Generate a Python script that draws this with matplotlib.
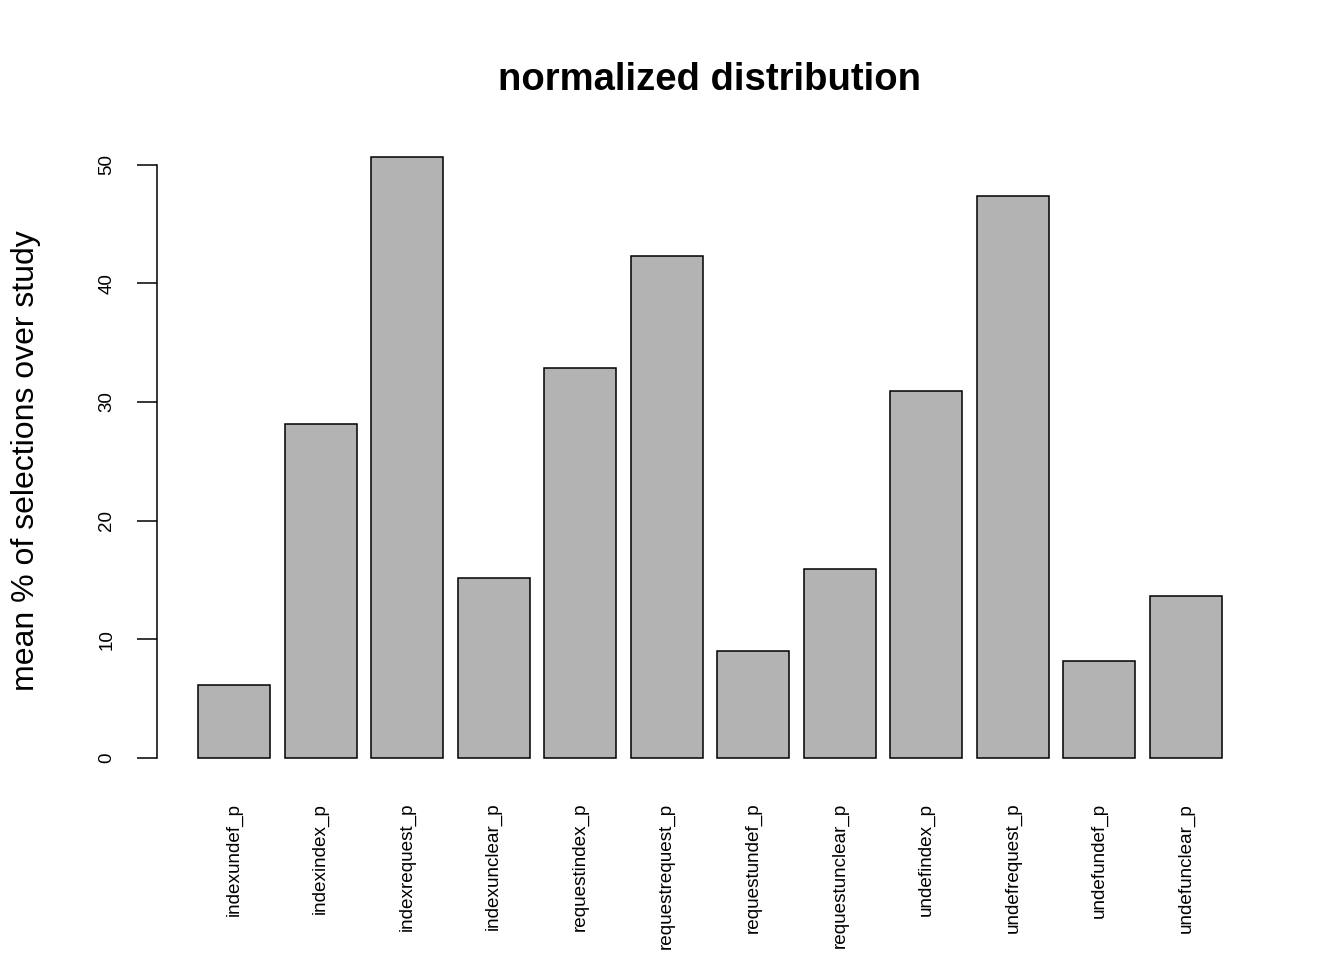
import matplotlib
matplotlib.use("Agg")
import matplotlib.pyplot as plt
import numpy as np

plt.rcParams["font.family"] = ["Liberation Sans", "DejaVu Sans"]

# bar labels and values
categories = [
    "indexundef_p", "indexindex_p", "indexrequest_p", "indexunclear_p",
    "requestindex_p", "requestrequest_p", "requestundef_p", "requestunclear_p",
    "undefindex_p", "undefrequest_p", "undefundef_p", "undefunclear_p",
]
values = [6.15, 28.15, 50.65, 15.15, 32.9, 42.3, 9.0, 15.95, 30.9, 47.35, 8.15, 13.65]
y_ticks = [0, 10, 20, 30, 40, 50]

# R barplot geometry: width 1, space 0.2
width, space = 1.0, 0.2
lefts = space + np.arange(len(values)) * (width + space)
centers = lefts + width / 2

fig = plt.figure(figsize=(13.44, 9.6), dpi=100)
ax = fig.add_axes([157 / 1344, 1 - 782 / 960, (1263 - 157) / 1344, (782 - 133) / 960])

ax.bar(centers, values, width=width, color="#B3B3B3", edgecolor="black", linewidth=1.1)

x0, x1 = lefts[0], lefts[-1] + width
xpad = 0.04 * (x1 - x0)
ax.set_xlim(x0 - xpad, x1 + xpad)
ymax = max(values)
ax.set_ylim(-0.04 * ymax, ymax * 1.04)

for side in ("top", "right", "bottom"):
    ax.spines[side].set_visible(False)
ax.spines["left"].set_bounds(0, 50)
ax.spines["left"].set_linewidth(1.1)

ax.set_yticks(y_ticks)
ax.set_yticklabels([str(t) for t in y_ticks], rotation=90, va="center")
ax.tick_params(axis="y", length=14.5, width=1.1, pad=15.5, labelsize=13.5)

ax.set_xticks(centers)
ax.set_xticklabels(categories, rotation=90, va="top", ha="center")
ax.tick_params(axis="x", length=0, pad=15, labelsize=13.6)

fig.text(710 / 1344, 1 - 80 / 960, "normalized distribution",
         ha="center", va="center", fontsize=27.5, fontweight="bold")
fig.text(26 / 1344, 1 - 461 / 960, "mean % of selections over study",
         ha="center", va="center", rotation=90, fontsize=23)

fig.savefig("out.png", dpi=100)
